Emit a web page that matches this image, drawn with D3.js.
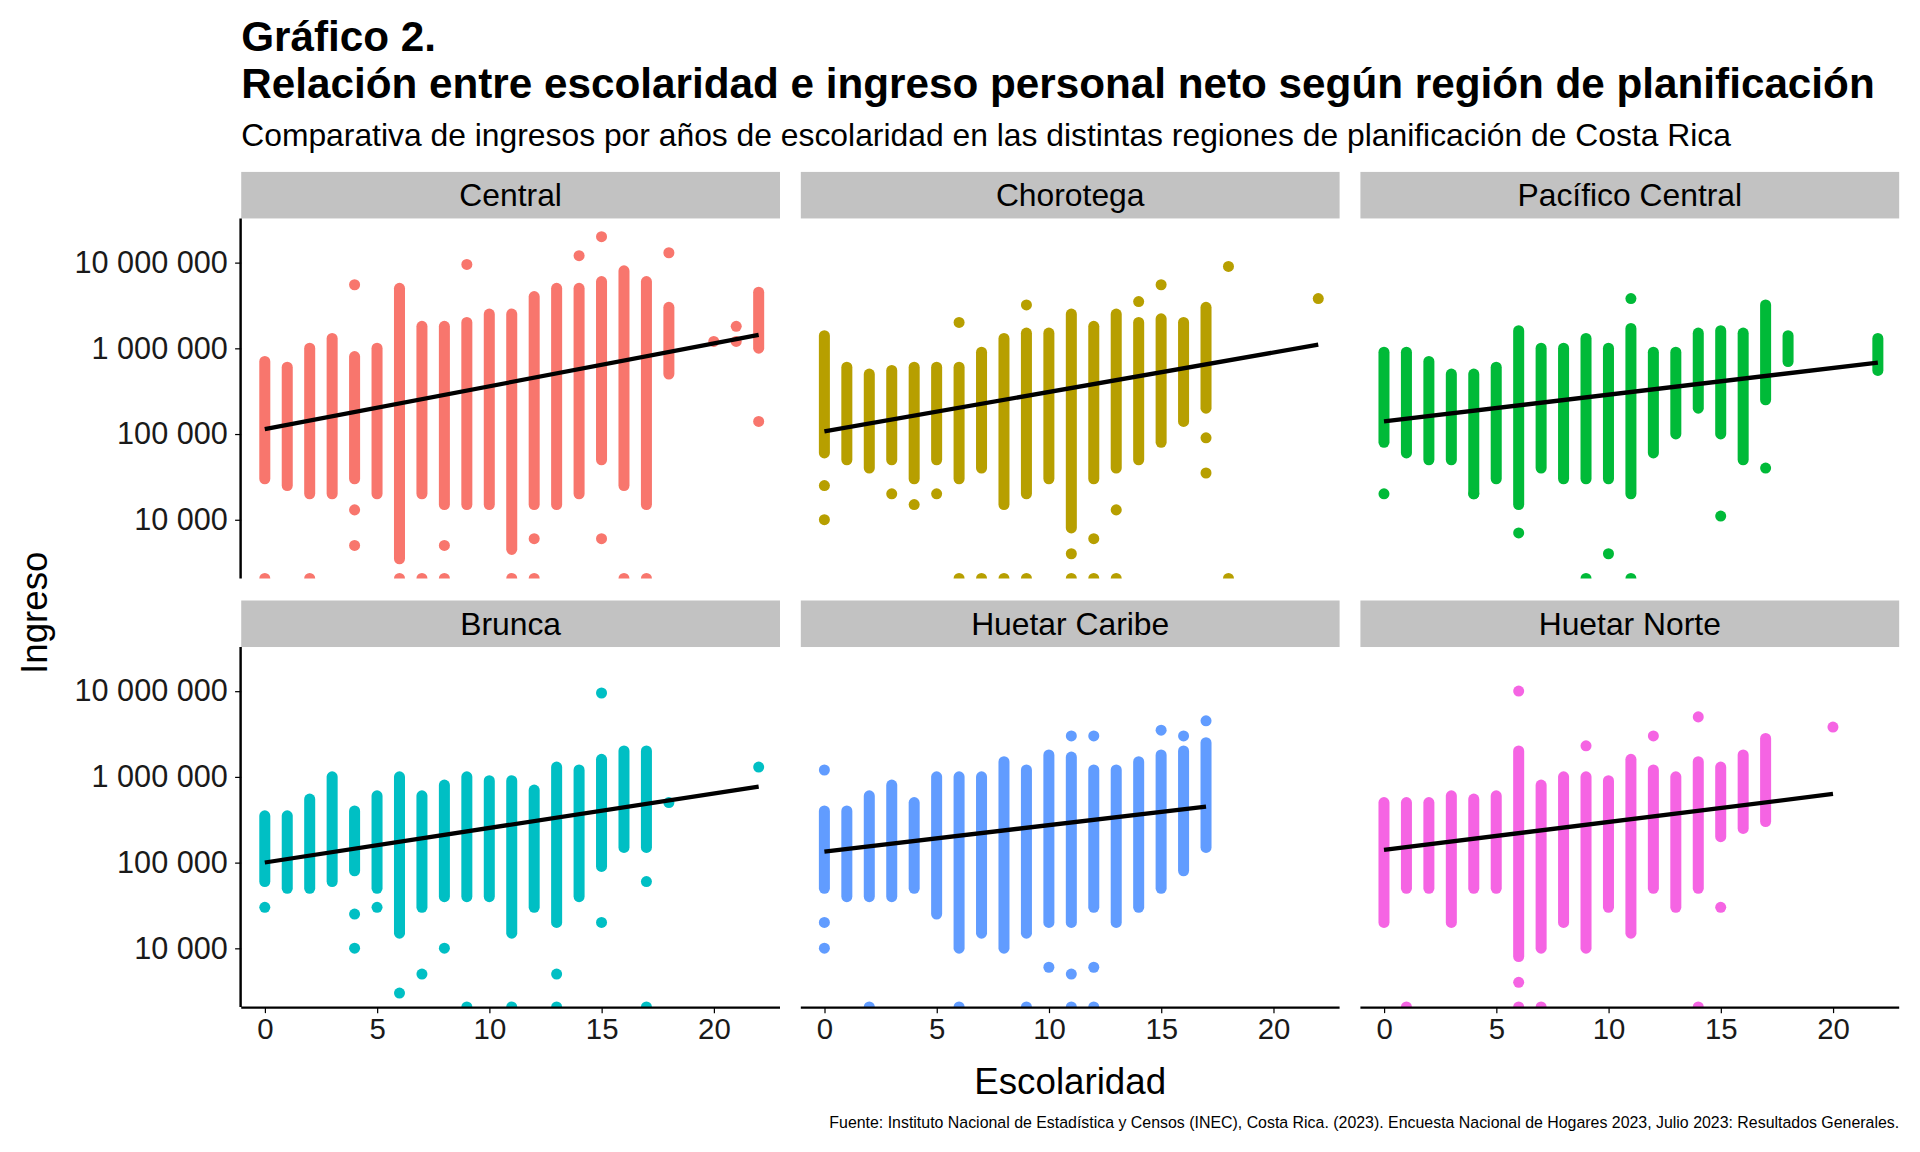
<!DOCTYPE html>
<html><head><meta charset="utf-8">
<script src="https://cdn.jsdelivr.net/npm/d3@7"></script>
<style>body{margin:0;background:#fff}text{font-family:"Liberation Sans",Arial,sans-serif}</style>
</head><body>
<script>
const regions = ["Central","Chorotega","Pacífico Central","Brunca","Huetar Caribe","Huetar Norte"];
const colors = ["#F8766D","#B79F00","#00BA38","#00BFC4","#619CFF","#F564E3"];
const xTicks = [0,5,10,15,20];
const yTicks = [10000,100000,1000000,10000000];

// dense columns of points per region: [escolaridad, min ingreso, max ingreso]
const streaks = [
 [[0,30e3,700e3],[1,25e3,600e3],[2,20e3,1e6],[3,20e3,1.3e6],[4,30e3,800e3],[5,20e3,1e6],[6,3.5e3,5e6],[7,20e3,1.8e6],[8,15e3,1.8e6],[9,15e3,2e6],[10,15e3,2.5e6],[11,4.5e3,2.5e6],[12,15e3,4e6],[13,15e3,5e6],[14,20e3,5e6],[15,50e3,6e6],[16,25e3,8e6],[17,15e3,6e6],[18,500e3,3e6],[22,1e6,4.5e6]],
 [[0,60e3,1.4e6],[1,50e3,600e3],[2,40e3,500e3],[3,50e3,550e3],[4,30e3,600e3],[5,50e3,600e3],[6,30e3,600e3],[7,40e3,900e3],[8,15e3,1.3e6],[9,20e3,1.5e6],[10,30e3,1.5e6],[11,8e3,2.5e6],[12,30e3,1.8e6],[13,40e3,2.5e6],[14,50e3,2e6],[15,80e3,2.2e6],[16,140e3,2e6],[17,200e3,3e6]],
 [[0,80e3,900e3],[1,60e3,900e3],[2,50e3,700e3],[3,50e3,500e3],[4,20e3,500e3],[5,30e3,600e3],[6,15e3,1.6e6],[7,40e3,1e6],[8,30e3,1e6],[9,30e3,1.3e6],[10,30e3,1e6],[11,20e3,1.7e6],[12,60e3,900e3],[13,100e3,900e3],[14,200e3,1.5e6],[15,100e3,1.6e6],[16,50e3,1.5e6],[17,250e3,3.2e6],[18,700e3,1.4e6],[22,550e3,1.3e6]],
 [[0,60e3,350e3],[1,50e3,350e3],[2,50e3,550e3],[3,60e3,1e6],[4,80e3,400e3],[5,50e3,600e3],[6,15e3,1e6],[7,30e3,600e3],[8,40e3,800e3],[9,40e3,1e6],[10,40e3,900e3],[11,15e3,900e3],[12,30e3,700e3],[13,20e3,1.3e6],[14,40e3,1.2e6],[15,90e3,1.6e6],[16,150e3,2e6],[17,150e3,2e6]],
 [[0,50e3,400e3],[1,40e3,400e3],[2,40e3,600e3],[3,40e3,800e3],[4,50e3,500e3],[5,25e3,1e6],[6,10e3,1e6],[7,15e3,1e6],[8,10e3,1.5e6],[9,15e3,1.2e6],[10,20e3,1.8e6],[11,20e3,1.7e6],[12,30e3,1.2e6],[13,20e3,1.2e6],[14,30e3,1.5e6],[15,50e3,1.8e6],[16,80e3,2e6],[17,150e3,2.5e6]],
 [[0,20e3,500e3],[1,50e3,500e3],[2,50e3,500e3],[3,20e3,600e3],[4,50e3,550e3],[5,50e3,600e3],[6,8e3,2e6],[7,10e3,800e3],[8,20e3,1e6],[9,10e3,1e6],[10,30e3,900e3],[11,15e3,1.6e6],[12,50e3,1.2e6],[13,30e3,1e6],[14,50e3,1.5e6],[15,200e3,1.3e6],[16,250e3,1.8e6],[17,300e3,2.8e6]]
];
// isolated points: [escolaridad, ingreso]; 0 = ingreso cero (drawn at the bottom edge)
const outliers = [
 [[0,0],[2,0],[4,13e3],[4,5e3],[4,5.5e6],[6,0],[7,0],[8,5e3],[8,0],[9,9.5e6],[11,0],[12,6e3],[12,0],[14,12e6],[15,6e3],[15,20e6],[16,0],[17,0],[18,13e6],[20,1.2e6],[21,1.2e6],[21,1.8e6],[22,140e3]],
 [[0,10e3],[0,25e3],[3,20e3],[4,15e3],[5,20e3],[6,2e6],[6,0],[7,0],[8,0],[9,3.2e6],[9,0],[11,4e3],[11,0],[12,6e3],[12,0],[13,13e3],[13,0],[14,3.5e6],[15,5.5e6],[17,35e3],[17,90e3],[18,9e6],[18,0],[22,3.8e6]],
 [[0,20e3],[4,20e3],[6,7e3],[9,0],[10,4e3],[11,3.8e6],[11,0],[15,11e3],[17,40e3]],
 [[0,30e3],[4,10e3],[4,25e3],[5,30e3],[6,3e3],[7,5e3],[8,10e3],[9,0],[11,0],[13,5e3],[13,0],[15,20e3],[15,9.5e6],[17,60e3],[17,0],[18,500e3],[22,1.3e6]],
 [[0,10e3],[0,20e3],[0,1.2e6],[2,0],[6,0],[9,0],[10,6e3],[11,5e3],[11,3e6],[11,0],[12,6e3],[12,3e6],[12,0],[15,3.5e6],[16,3e6],[17,4.5e6]],
 [[1,0],[6,4e3],[6,10e6],[6,0],[7,0],[9,2.3e6],[12,3e6],[14,5e6],[14,0],[15,30e3],[20,3.8e6]]
];
// regression line endpoints: [x0, y0, x1, y1]
const fits = [[0,114e3,22,1.43e6],[0,107e3,22,1.1e6],[0,140e3,22,680e3],[0,100e3,22,770e3],[0,134e3,17,450e3],[0,140e3,20,630e3]];

const svg = d3.select("body").append("svg")
  .attr("width",1920).attr("height",1152).attr("viewBox","0 0 1568 940");

svg.append("text").attr("x",197).attr("y",41).attr("font-size",34.5).attr("font-weight","bold").text("Gráfico 2.");
svg.append("text").attr("x",197).attr("y",80).attr("font-size",34.5).attr("font-weight","bold").text("Relación entre escolaridad e ingreso personal neto según región de planificación");
svg.append("text").attr("x",197).attr("y",119).attr("font-size",26).text("Comparativa de ingresos por años de escolaridad en las distintas regiones de planificación de Costa Rica");

const panelW = 440, stripH = 38, plotH = 294;
const colX = [197,654,1111], rowY = [140,490];
const xScale = d3.scaleLinear().domain([-1.05,22.95]).range([0,panelW]);
const yScale = d3.scaleLog().domain([10**3.314,10**7.514]).range([plotH,0]).clamp(true);
const yv = v => v === 0 ? plotH : yScale(v);

regions.forEach((name,i) => {
  const col = i % 3, row = Math.floor(i/3);
  const g = svg.append("g").attr("transform",`translate(${colX[col]},${rowY[row]})`);
  g.append("rect").attr("width",panelW).attr("height",stripH).attr("fill","#c2c2c2");
  g.append("text").attr("x",panelW/2).attr("y",stripH/2+9).attr("text-anchor","middle").attr("font-size",26).text(name);
  const p = g.append("g").attr("transform",`translate(0,${stripH})`);
  p.append("clipPath").attr("id","c"+i).append("rect").attr("x",-6).attr("y",-6).attr("width",panelW+12).attr("height",plotH+6);
  const pts = p.append("g").attr("clip-path",`url(#c${i})`);
  pts.selectAll("line.s").data(streaks[i]).enter().append("line")
    .attr("x1",d=>xScale(d[0])).attr("x2",d=>xScale(d[0]))
    .attr("y1",d=>yv(d[1])).attr("y2",d=>yv(d[2]))
    .attr("stroke",colors[i]).attr("stroke-width",9).attr("stroke-linecap","round");
  pts.selectAll("circle").data(outliers[i]).enter().append("circle")
    .attr("cx",d=>xScale(d[0])).attr("cy",d=>yv(d[1])).attr("r",4.5).attr("fill",colors[i]);
  const f = fits[i];
  p.append("line").attr("x1",xScale(f[0])).attr("y1",yv(f[1])).attr("x2",xScale(f[2])).attr("y2",yv(f[3]))
    .attr("stroke","black").attr("stroke-width",3.5);
  if (col === 0) {
    const ax = p.append("g").call(d3.axisLeft(yScale).tickValues(yTicks).tickSize(5).tickPadding(6)
      .tickFormat(d => d3.format(",")(d).replace(/,/g," ")));
    ax.selectAll("text").attr("font-size",25).attr("fill","#1a1a1a");
    ax.select(".domain").attr("stroke-width",2).attr("d",`M-0.5,0V${plotH}`);
  }
  if (row === 1) {
    const ax = p.append("g").attr("transform",`translate(0,${plotH})`)
      .call(d3.axisBottom(xScale).tickValues(xTicks).tickSize(5).tickPadding(4));
    ax.selectAll("text").attr("font-size",24).attr("fill","#1a1a1a");
    ax.select(".domain").attr("stroke-width",2).attr("d",`M0,0.5H${panelW}`);
  }
});

svg.append("text").attr("transform","translate(38,500) rotate(-90)").attr("text-anchor","middle").attr("font-size",30).text("Ingreso");
svg.append("text").attr("x",874).attr("y",893).attr("text-anchor","middle").attr("font-size",30).text("Escolaridad");
svg.append("text").attr("x",1551).attr("y",921).attr("text-anchor","end").attr("font-size",13).text("Fuente: Instituto Nacional de Estadística y Censos (INEC), Costa Rica. (2023). Encuesta Nacional de Hogares 2023, Julio 2023: Resultados Generales.");
</script>
</body></html>
